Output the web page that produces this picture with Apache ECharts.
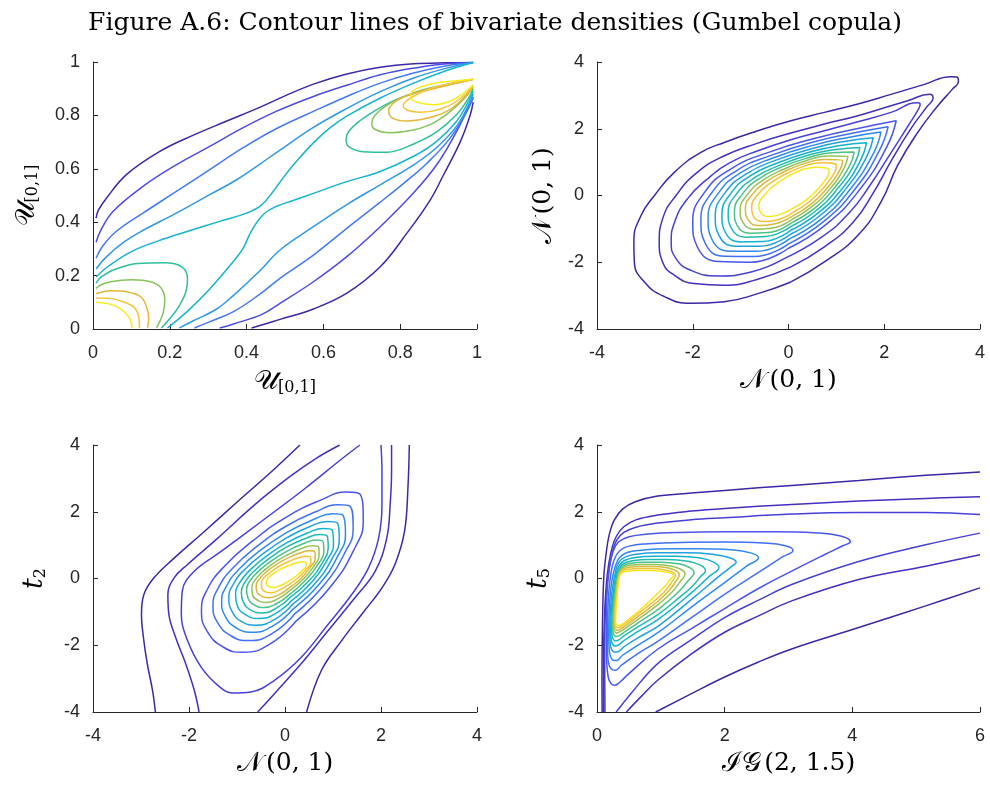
<!DOCTYPE html>
<html>
<head>
<meta charset="utf-8">
<script src="https://cdn.jsdelivr.net/npm/echarts@6/dist/echarts.min.js"></script>
<style>
html,body{margin:0;padding:0;background:#fff;}
#chart{width:990px;height:785px;}
</style>
</head>
<body>
<div id="chart"></div>
<script>
// ---------------- tick values ----------------
const tlTicks = [0, 0.2, 0.4, 0.6, 0.8, 1];
const nTicks = [-4, -2, 0, 2, 4];
const igTicks = [0, 2, 4, 6];

// ---------------- Top-left: U[0,1] x U[0,1] ----------------
const tl_u1 = [[0.008,0.415],[0.014,0.445],[0.035,0.49],[0.087,0.578],[0.174,0.665],[0.26,0.725],[0.347,0.778],[0.434,0.83],[0.5,0.873],[0.574,0.917],[0.661,0.955],[0.748,0.98],[0.835,0.993],[0.921,0.997],[0.99,0.998]];
const tl_u2 = [[0.008,0.325],[0.019,0.366],[0.052,0.44],[0.13,0.534],[0.217,0.615],[0.304,0.684],[0.39,0.753],[0.477,0.815],[0.574,0.871],[0.661,0.913],[0.748,0.952],[0.835,0.977],[0.921,0.993],[0.99,0.998]];
const tl_u3 = [[0.008,0.265],[0.025,0.31],[0.061,0.366],[0.13,0.434],[0.217,0.515],[0.304,0.597],[0.39,0.678],[0.477,0.75],[0.574,0.815],[0.661,0.871],[0.748,0.921],[0.835,0.959],[0.921,0.986],[0.99,0.998]];
const tl_u4 = [[0.008,0.225],[0.035,0.27],[0.08,0.325],[0.126,0.366],[0.217,0.434],[0.304,0.503],[0.373,0.558],[0.434,0.617],[0.487,0.67],[0.574,0.755],[0.661,0.826],[0.748,0.889],[0.835,0.94],[0.921,0.977],[0.99,0.998]];
const tl_u5 = [[0.008,0.195],[0.04,0.235],[0.1,0.29],[0.17,0.33],[0.247,0.366],[0.33,0.403],[0.4,0.434],[0.438,0.463],[0.469,0.515],[0.495,0.566],[0.53,0.628],[0.574,0.697],[0.617,0.753],[0.661,0.797],[0.748,0.865],[0.835,0.921],[0.921,0.968],[0.99,0.998]];
const tl_d1 = [[0.413,0.004],[0.487,0.036],[0.574,0.075],[0.661,0.134],[0.748,0.233],[0.817,0.358],[0.878,0.483],[0.912,0.575],[0.956,0.7],[0.982,0.8],[0.99,0.85]];
const tl_d2 = [[0.33,0.004],[0.366,0.019],[0.44,0.055],[0.487,0.096],[0.574,0.177],[0.661,0.271],[0.748,0.383],[0.835,0.51],[0.895,0.615],[0.947,0.74],[0.978,0.83],[0.99,0.865]];
const tl_d3 = [[0.264,0.004],[0.3,0.025],[0.366,0.065],[0.434,0.13],[0.487,0.19],[0.574,0.277],[0.661,0.377],[0.748,0.475],[0.817,0.555],[0.869,0.62],[0.93,0.715],[0.974,0.815],[0.99,0.87]];
const tl_d4 = [[0.225,0.004],[0.26,0.03],[0.32,0.073],[0.366,0.126],[0.434,0.217],[0.487,0.296],[0.574,0.383],[0.661,0.466],[0.748,0.54],[0.835,0.615],[0.895,0.68],[0.947,0.76],[0.978,0.84],[0.99,0.88]];
const tl_d5 = [[0.194,0.004],[0.248,0.069],[0.301,0.145],[0.354,0.233],[0.39,0.3],[0.412,0.366],[0.443,0.428],[0.477,0.459],[0.521,0.481],[0.574,0.508],[0.661,0.552],[0.748,0.59],[0.835,0.647],[0.895,0.703],[0.947,0.778],[0.978,0.853],[0.99,0.89]];
const tl_r6 = [[0.99,0.935],[0.921,0.915],[0.852,0.89],[0.791,0.86],[0.739,0.822],[0.695,0.78],[0.665,0.738],[0.659,0.708],[0.669,0.68],[0.704,0.664],[0.765,0.662],[0.835,0.693],[0.895,0.738],[0.947,0.803],[0.978,0.865],[0.99,0.9]];
const tl_r7 = [[0.99,0.935],[0.93,0.917],[0.869,0.9],[0.817,0.875],[0.765,0.838],[0.734,0.8],[0.726,0.77],[0.734,0.748],[0.773,0.735],[0.834,0.745],[0.887,0.772],[0.939,0.825],[0.974,0.875],[0.99,0.905]];
const tl_r8 = [[0.99,0.935],[0.94,0.918],[0.887,0.9],[0.835,0.882],[0.791,0.855],[0.77,0.82],[0.778,0.792],[0.817,0.779],[0.869,0.789],[0.921,0.815],[0.96,0.858],[0.99,0.908]];
const tl_r9 = [[0.99,0.935],[0.947,0.924],[0.895,0.908],[0.85,0.883],[0.82,0.858],[0.808,0.838],[0.818,0.82],[0.853,0.812],[0.904,0.823],[0.947,0.853],[0.99,0.91]];
const tl_r10 = [[0.99,0.935],[0.947,0.93],[0.895,0.922],[0.851,0.905],[0.83,0.888],[0.827,0.868],[0.843,0.85],[0.886,0.84],[0.93,0.853],[0.964,0.882],[0.99,0.915]];
const tl_l6 = [[0.008,0.172],[0.02,0.193],[0.055,0.222],[0.117,0.245],[0.187,0.248],[0.231,0.233],[0.246,0.189],[0.243,0.145],[0.225,0.088],[0.203,0.044],[0.178,0.004]];
const tl_l7 = [[0.008,0.152],[0.02,0.165],[0.046,0.177],[0.099,0.184],[0.152,0.176],[0.178,0.152],[0.187,0.107],[0.182,0.057],[0.165,0.004]];
const tl_l8 = [[0.008,0.132],[0.046,0.143],[0.09,0.139],[0.125,0.12],[0.14,0.08],[0.145,0.04],[0.142,0.004]];
const tl_l9 = [[0.008,0.116],[0.046,0.114],[0.082,0.1],[0.108,0.08],[0.119,0.045],[0.121,0.004]];
const tl_l10 = [[0.008,0.1],[0.038,0.095],[0.064,0.083],[0.082,0.063],[0.096,0.038],[0.102,0.004]];

// ---------------- Top-right: N(0,1) x N(0,1) ----------------
const tr_1 = [[3.4,3.56],[2.84,3.33],[2.14,3.03],[1.45,2.74],[0.75,2.49],[0.05,2.24],[-0.64,1.94],[-1.34,1.59],[-1.83,1.29],[-2.38,0.7],[-2.8,0.0],[-3.08,-0.6],[-3.23,-1.39],[-3.22,-1.99],[-3.01,-2.59],[-2.59,-3.03],[-2.04,-3.23],[-1.34,-3.18],[-0.64,-2.94],[0.05,-2.59],[0.75,-1.99],[1.45,-1.19],[1.93,-0.2],[2.28,0.9],[2.7,1.89],[3.12,2.69],[3.42,3.18],[3.55,3.42],[3.52,3.55],[3.4,3.56]];
const tr_2 = [[2.95,3.03],[2.49,2.84],[2.14,2.69],[1.45,2.39],[0.75,2.14],[0.05,1.87],[-0.64,1.57],[-1.34,1.19],[-1.9,0.7],[-2.35,0.0],[-2.63,-0.7],[-2.7,-1.39],[-2.63,-1.99],[-2.38,-2.39],[-1.97,-2.64],[-1.34,-2.69],[-0.64,-2.51],[0.05,-2.14],[0.75,-1.54],[1.35,-0.8],[1.78,0.1],[2.13,1.0],[2.55,1.99],[2.88,2.64],[3.02,2.92],[2.95,3.03]];
const tr_3 = [[2.7,2.78],[2.14,2.49],[1.45,2.21],[0.75,1.94],[0.05,1.67],[-0.64,1.34],[-1.2,1.0],[-1.69,0.5],[-2.11,-0.1],[-2.38,-0.8],[-2.45,-1.39],[-2.35,-1.89],[-2.04,-2.24],[-1.48,-2.41],[-0.78,-2.29],[-0.09,-1.89],[0.7,-1.24],[1.28,-0.5],[1.7,0.3],[2.1,1.19],[2.5,2.09],[2.72,2.6],[2.75,2.74],[2.7,2.78]];
const tr_4 = [[2.25,2.24],[1.45,2.01],[0.6,1.73],[-0.4,1.3],[-1.2,0.8],[-1.75,0.1],[-2.0,-0.8],[-1.9,-1.55],[-1.45,-1.98],[-0.8,-2.0],[0.0,-1.58],[0.8,-0.85],[1.5,0.2],[2.05,1.45],[2.25,2.24]];
const tr_5 = [[2.08,2.06],[1.35,1.87],[0.56,1.62],[-0.35,1.21],[-1.09,0.74],[-1.6,0.09],[-1.83,-0.74],[-1.74,-1.43],[-1.33,-1.82],[-0.73,-1.83],[0.01,-1.44],[0.75,-0.76],[1.4,0.21],[1.9,1.35],[2.08,2.06]];
const tr_6 = [[1.93,1.9],[1.25,1.74],[0.53,1.51],[-0.31,1.13],[-0.99,0.69],[-1.46,0.08],[-1.68,-0.69],[-1.6,-1.31],[-1.21,-1.67],[-0.66,-1.67],[0.02,-1.3],[0.71,-0.68],[1.3,0.21],[1.77,1.25],[1.93,1.9]];
const tr_7 = [[1.77,1.73],[1.16,1.62],[0.5,1.41],[-0.26,1.06],[-0.89,0.64],[-1.33,0.07],[-1.53,-0.63],[-1.45,-1.2],[-1.1,-1.52],[-0.6,-1.52],[0.03,-1.17],[0.66,-0.6],[1.21,0.22],[1.63,1.15],[1.77,1.73]];
const tr_8 = [[1.63,1.58],[1.08,1.5],[0.47,1.31],[-0.22,0.98],[-0.8,0.59],[-1.2,0.07],[-1.39,-0.58],[-1.32,-1.1],[-1.0,-1.39],[-0.54,-1.38],[0.04,-1.05],[0.62,-0.52],[1.13,0.22],[1.51,1.07],[1.63,1.58]];
const tr_9 = [[1.49,1.44],[0.99,1.38],[0.44,1.22],[-0.18,0.91],[-0.7,0.54],[-1.08,0.06],[-1.26,-0.53],[-1.19,-0.99],[-0.89,-1.25],[-0.48,-1.23],[0.05,-0.93],[0.58,-0.45],[1.04,0.23],[1.39,0.98],[1.49,1.44]];
const tr_10 = [[1.37,1.3],[0.91,1.28],[0.41,1.13],[-0.15,0.85],[-0.62,0.5],[-0.96,0.05],[-1.13,-0.49],[-1.07,-0.9],[-0.8,-1.13],[-0.42,-1.11],[0.06,-0.82],[0.55,-0.38],[0.96,0.23],[1.28,0.9],[1.37,1.3]];
const tr_11 = [[1.24,1.17],[0.84,1.18],[0.38,1.05],[-0.11,0.78],[-0.54,0.45],[-0.85,0.04],[-1.01,-0.44],[-0.95,-0.81],[-0.71,-1.01],[-0.37,-0.98],[0.07,-0.72],[0.51,-0.31],[0.89,0.24],[1.16,0.82],[1.24,1.17]];
const tr_12 = [[1.13,1.05],[0.77,1.08],[0.36,0.97],[-0.08,0.72],[-0.46,0.42],[-0.75,0.04],[-0.9,-0.4],[-0.84,-0.73],[-0.63,-0.9],[-0.32,-0.86],[0.08,-0.62],[0.48,-0.25],[0.82,0.24],[1.07,0.75],[1.13,1.05]];
const tr_13 = [[1.0,0.91],[0.69,0.98],[0.33,0.88],[-0.04,0.66],[-0.38,0.37],[-0.64,0.03],[-0.77,-0.36],[-0.73,-0.63],[-0.53,-0.78],[-0.27,-0.74],[0.09,-0.51],[0.44,-0.18],[0.74,0.25],[0.96,0.68],[1.0,0.91]];
const tr_14 = [[0.85,0.75],[0.6,0.85],[0.3,0.78],[0.0,0.58],[-0.28,0.32],[-0.5,0.02],[-0.62,-0.3],[-0.58,-0.52],[-0.42,-0.63],[-0.2,-0.58],[0.1,-0.38],[0.4,-0.1],[0.65,0.25],[0.82,0.58],[0.85,0.75]];

// ---------------- Bottom-left: N(0,1) x t2 ----------------
const bl_1a = [[-2.7,-4.0],[-2.76,-3.35],[-2.87,-2.55],[-2.95,-1.76],[-2.99,-1.07],[-2.94,-0.48],[-2.73,0.02],[-2.31,0.61],[-1.68,1.41],[-0.99,2.3],[-0.29,3.19],[0.31,4.0]];
const bl_1b = [[2.59,4.0],[2.56,2.69],[2.49,1.41],[2.29,0.42],[2.02,-0.28],[1.6,-1.07],[1.18,-1.86],[0.76,-2.75],[0.45,-4.0]];
const bl_2a = [[-1.79,-4.0],[-1.89,-3.35],[-2.07,-2.55],[-2.28,-1.76],[-2.42,-1.07],[-2.44,-0.48],[-2.31,0.02],[-2.03,0.42],[-1.4,1.21],[-0.64,2.2],[0.1,3.05],[0.65,3.6],[1.14,4.0]];
const bl_2b = [[2.22,4.0],[2.22,3.19],[2.19,2.2],[2.12,1.21],[1.88,0.22],[1.46,-0.57],[0.9,-1.56],[0.34,-2.55],[-0.22,-3.45],[-0.57,-4.0]];
const bl_3 = [[1.56,4.0],[1.18,3.58],[0.41,2.69],[-0.5,1.7],[-1.33,0.81],[-1.89,0.22],[-2.14,-0.38],[-2.16,-1.07],[-2.03,-1.86],[-1.75,-2.65],[-1.4,-3.2],[-1.09,-3.43],[-0.71,-3.4],[-0.22,-3.05],[0.34,-2.36],[0.9,-1.37],[1.39,-0.48],[1.74,0.32],[1.95,1.21],[2.02,2.2],[2.02,3.19],[2.0,4.0]];
const bl_4 = [[1.56,2.53],[1.63,1.74],[1.45,0.9],[0.94,-0.26],[0.24,-1.26],[-0.31,-1.96],[-0.87,-2.21],[-1.28,-2.06],[-1.63,-1.56],[-1.74,-0.96],[-1.63,-0.36],[-1.28,0.34],[-0.66,1.14],[0.03,1.84],[0.73,2.34],[1.28,2.59],[1.56,2.53]];
const bl_5 = [[1.36,2.16],[1.42,1.5],[1.25,0.78],[0.81,-0.2],[0.21,-1.05],[-0.27,-1.65],[-0.76,-1.86],[-1.11,-1.73],[-1.41,-1.31],[-1.5,-0.8],[-1.39,-0.28],[-1.09,0.31],[-0.56,0.99],[0.04,1.58],[0.64,2.0],[1.11,2.21],[1.36,2.16]];
const bl_6 = [[1.21,1.89],[1.26,1.32],[1.11,0.7],[0.72,-0.16],[0.18,-0.9],[-0.25,-1.42],[-0.68,-1.61],[-0.99,-1.5],[-1.25,-1.12],[-1.32,-0.68],[-1.22,-0.23],[-0.95,0.29],[-0.48,0.88],[0.05,1.39],[0.58,1.76],[1.0,1.94],[1.21,1.89]];
const bl_7 = [[1.09,1.67],[1.13,1.17],[0.99,0.62],[0.64,-0.13],[0.16,-0.77],[-0.22,-1.23],[-0.61,-1.4],[-0.89,-1.3],[-1.11,-0.97],[-1.17,-0.58],[-1.08,-0.18],[-0.84,0.27],[-0.42,0.78],[0.05,1.23],[0.52,1.56],[0.89,1.71],[1.09,1.67]];
const bl_8 = [[0.98,1.46],[1.01,1.03],[0.88,0.56],[0.57,-0.09],[0.14,-0.66],[-0.2,-1.05],[-0.55,-1.2],[-0.79,-1.11],[-0.99,-0.83],[-1.03,-0.49],[-0.95,-0.14],[-0.73,0.25],[-0.36,0.7],[0.06,1.09],[0.48,1.37],[0.8,1.5],[0.98,1.46]];
const bl_9 = [[0.88,1.27],[0.9,0.91],[0.79,0.5],[0.5,-0.07],[0.12,-0.55],[-0.18,-0.89],[-0.49,-1.03],[-0.71,-0.95],[-0.87,-0.7],[-0.91,-0.41],[-0.83,-0.1],[-0.63,0.24],[-0.31,0.62],[0.06,0.96],[0.43,1.2],[0.72,1.32],[0.88,1.27]];
const bl_10 = [[0.79,1.11],[0.81,0.8],[0.7,0.45],[0.44,-0.04],[0.11,-0.46],[-0.17,-0.75],[-0.44,-0.87],[-0.63,-0.8],[-0.77,-0.59],[-0.8,-0.33],[-0.73,-0.07],[-0.55,0.22],[-0.26,0.55],[0.07,0.84],[0.39,1.05],[0.65,1.15],[0.79,1.11]];
const bl_11 = [[0.7,0.94],[0.71,0.69],[0.61,0.39],[0.39,-0.01],[0.09,-0.37],[-0.15,-0.61],[-0.39,-0.72],[-0.56,-0.66],[-0.68,-0.47],[-0.69,-0.26],[-0.62,-0.04],[-0.46,0.21],[-0.21,0.49],[0.07,0.72],[0.35,0.9],[0.57,0.98],[0.7,0.94]];
const bl_12 = [[0.62,0.8],[0.63,0.6],[0.53,0.35],[0.34,0.01],[0.08,-0.29],[-0.13,-0.49],[-0.35,-0.58],[-0.49,-0.53],[-0.59,-0.38],[-0.6,-0.2],[-0.53,-0.01],[-0.39,0.2],[-0.17,0.43],[0.07,0.62],[0.32,0.77],[0.51,0.83],[0.62,0.8]];
const bl_13 = [[0.53,0.64],[0.54,0.49],[0.45,0.29],[0.28,0.03],[0.07,-0.19],[-0.12,-0.35],[-0.3,-0.43],[-0.42,-0.39],[-0.49,-0.26],[-0.49,-0.12],[-0.43,0.03],[-0.31,0.18],[-0.13,0.36],[0.08,0.51],[0.28,0.62],[0.43,0.67],[0.53,0.64]];
const bl_14 = [[0.44,0.47],[0.44,0.38],[0.36,0.24],[0.22,0.06],[0.05,-0.1],[-0.1,-0.21],[-0.25,-0.27],[-0.34,-0.24],[-0.39,-0.15],[-0.38,-0.05],[-0.32,0.06],[-0.22,0.17],[-0.08,0.29],[0.08,0.39],[0.24,0.47],[0.36,0.5],[0.44,0.47]];

// ---------------- Bottom-right: IG(2,1.5) x t5 ----------------
const br_t1 = [[6.0,3.19],[5.15,3.09],[4.1,2.94],[3.05,2.79],[2.0,2.64],[1.48,2.56],[0.95,2.47],[0.6,2.3],[0.4,2.08],[0.27,1.75],[0.19,1.3],[0.14,0.7],[0.105,0.0],[0.085,-1.5],[0.078,-3.0],[0.08,-4.0]];
const br_t2 = [[6.0,2.45],[5.15,2.4],[4.1,2.32],[3.05,2.22],[2.0,2.1],[1.48,2.02],[0.95,1.9],[0.6,1.75],[0.42,1.55],[0.3,1.25],[0.22,0.8],[0.16,0.1],[0.12,-1.0],[0.103,-2.5],[0.105,-4.0]];
const br_t3 = [[6.0,1.92],[5.15,1.98],[4.1,1.98],[3.05,1.93],[2.0,1.82],[1.48,1.76],[0.95,1.66],[0.6,1.53],[0.42,1.38],[0.31,1.15],[0.235,0.75],[0.175,0.1],[0.135,-0.8],[0.12,-2.0],[0.125,-4.0]];
const br_b1 = [[0.92,-4.0],[1.48,-3.45],[2.0,-2.95],[2.53,-2.5],[3.05,-2.11],[4.1,-1.47],[5.15,-0.82],[6.0,-0.28]];
const br_b2 = [[0.46,-4.0],[0.69,-3.54],[0.95,-3.05],[1.48,-2.26],[2.0,-1.61],[2.53,-1.12],[3.05,-0.67],[4.1,-0.03],[5.15,0.37],[6.0,0.71]];
const br_b3 = [[0.3,-4.0],[0.53,-3.45],[0.95,-2.55],[1.48,-1.83],[2.0,-1.17],[2.53,-0.65],[3.05,-0.18],[4.1,0.51],[5.15,1.01],[6.0,1.36]];
const br_4 = [[3.97,1.1],[3.8,1.28],[3.4,1.37],[2.8,1.4],[2.0,1.4],[1.3,1.38],[0.8,1.33],[0.5,1.25],[0.34,1.1],[0.25,0.8],[0.19,0.25],[0.155,-0.5],[0.145,-1.5],[0.15,-2.4],[0.175,-2.95],[0.22,-3.15],[0.28,-3.2],[0.36,-3.1],[0.5,-2.85],[0.95,-2.12],[1.48,-1.5],[2.0,-0.9],[2.53,-0.3],[3.05,0.22],[3.57,0.72],[3.85,0.98],[3.97,1.1]];
const br_5 = [[3.07,0.84],[2.95,0.98],[2.6,1.06],[2.0,1.09],[1.3,1.08],[0.8,1.04],[0.5,0.97],[0.36,0.84],[0.27,0.57],[0.21,0.05],[0.175,-0.7],[0.163,-1.6],[0.168,-2.3],[0.19,-2.6],[0.235,-2.73],[0.29,-2.75],[0.38,-2.6],[0.6,-2.3],[0.97,-1.86],[1.49,-1.16],[2.01,-0.46],[2.53,0.18],[2.9,0.64],[3.07,0.84]];
const br_6 = [[2.53,0.62],[2.42,0.76],[2.1,0.86],[1.6,0.89],[1.1,0.89],[0.7,0.85],[0.47,0.78],[0.35,0.62],[0.285,0.35],[0.23,-0.1],[0.195,-0.8],[0.183,-1.6],[0.19,-2.1],[0.215,-2.35],[0.255,-2.45],[0.305,-2.46],[0.4,-2.3],[0.6,-2.05],[0.97,-1.6],[1.49,-0.84],[2.01,-0.11],[2.35,0.38],[2.53,0.62]];
const br_7 = [[2.18,0.49],[2.08,0.62],[1.8,0.73],[1.4,0.77],[0.95,0.77],[0.62,0.73],[0.44,0.64],[0.34,0.48],[0.29,0.2],[0.245,-0.25],[0.21,-0.9],[0.2,-1.6],[0.207,-1.95],[0.23,-2.13],[0.268,-2.2],[0.315,-2.2],[0.42,-2.05],[0.62,-1.8],[0.97,-1.41],[1.49,-0.61],[1.9,0.05],[2.1,0.35],[2.18,0.49]];
const br_8 = [[1.91,0.34],[1.82,0.5],[1.6,0.62],[1.25,0.67],[0.9,0.67],[0.6,0.63],[0.43,0.54],[0.345,0.38],[0.295,0.1],[0.26,-0.35],[0.225,-0.95],[0.215,-1.55],[0.222,-1.83],[0.245,-1.97],[0.283,-2.02],[0.325,-2.0],[0.43,-1.85],[0.63,-1.6],[0.97,-1.21],[1.49,-0.41],[1.75,0.05],[1.91,0.34]];
const br_9 = [[1.7,0.24],[1.62,0.4],[1.42,0.52],[1.1,0.57],[0.8,0.57],[0.56,0.53],[0.42,0.45],[0.35,0.3],[0.305,0.05],[0.272,-0.4],[0.24,-0.95],[0.23,-1.5],[0.236,-1.72],[0.258,-1.83],[0.292,-1.87],[0.332,-1.85],[0.44,-1.7],[0.64,-1.45],[0.97,-1.06],[1.3,-0.55],[1.49,-0.24],[1.62,0.05],[1.7,0.24]];
const br_10 = [[1.52,0.19],[1.45,0.33],[1.28,0.44],[1.0,0.49],[0.74,0.49],[0.53,0.46],[0.41,0.38],[0.355,0.24],[0.315,0.0],[0.283,-0.4],[0.255,-0.95],[0.245,-1.45],[0.25,-1.62],[0.272,-1.71],[0.303,-1.74],[0.343,-1.72],[0.45,-1.58],[0.65,-1.32],[0.97,-0.91],[1.25,-0.45],[1.42,-0.08],[1.52,0.19]];
const br_11 = [[1.38,0.14],[1.32,0.27],[1.17,0.37],[0.92,0.42],[0.7,0.42],[0.51,0.4],[0.4,0.32],[0.355,0.19],[0.322,-0.02],[0.293,-0.4],[0.266,-0.95],[0.256,-1.4],[0.262,-1.54],[0.282,-1.61],[0.312,-1.63],[0.352,-1.6],[0.46,-1.47],[0.66,-1.2],[0.97,-0.76],[1.18,-0.4],[1.3,-0.1],[1.38,0.14]];
const br_12 = [[1.29,0.12],[1.24,0.23],[1.1,0.32],[0.88,0.36],[0.67,0.36],[0.5,0.34],[0.395,0.27],[0.355,0.15],[0.327,-0.05],[0.302,-0.4],[0.277,-0.95],[0.267,-1.35],[0.273,-1.47],[0.292,-1.53],[0.322,-1.55],[0.362,-1.52],[0.47,-1.38],[0.67,-1.1],[0.97,-0.66],[1.13,-0.36],[1.23,-0.1],[1.29,0.12]];
const br_13 = [[1.23,0.1],[1.18,0.19],[1.05,0.26],[0.85,0.3],[0.65,0.3],[0.49,0.28],[0.39,0.22],[0.355,0.11],[0.332,-0.08],[0.31,-0.4],[0.287,-0.95],[0.278,-1.3],[0.285,-1.41],[0.302,-1.46],[0.332,-1.47],[0.372,-1.44],[0.48,-1.3],[0.68,-1.0],[0.97,-0.56],[1.1,-0.3],[1.18,-0.08],[1.23,0.1]];
const br_14 = [[1.2,0.09],[1.15,0.16],[1.02,0.21],[0.82,0.24],[0.62,0.24],[0.47,0.22],[0.38,0.16],[0.35,0.05],[0.335,-0.15],[0.318,-0.45],[0.298,-0.95],[0.29,-1.25],[0.296,-1.35],[0.312,-1.4],[0.342,-1.41],[0.382,-1.38],[0.5,-1.22],[0.7,-0.9],[0.97,-0.41],[1.08,-0.2],[1.15,-0.02],[1.2,0.09]];

// ---------------- colours (parula-like levels) ----------------
const PAL = ['#3e26a8','#4230c0','#4640d8','#4a55ee','#4170f7','#2f8aef','#20a1e0','#12b2cb','#1fbcae','#4bc286','#95c25a','#d6ba3c','#f5c23a','#f8e61c'];
const TLPAL = ['#3e26a8','#4b4be6','#4479f6','#2f98e8','#15b4d0','#2fbf9c','#86c35c','#e2b73a','#f6c63a','#f8ec1c'];

// closed loops: start the path mid-side so the closing joint falls on a flat stretch
function startAt(loop, k){ const open = loop.slice(0, loop.length - 1); return open.slice(k).concat(open.slice(0, k + 1)); }

// ---------------- assembly ----------------
const trLoops = [startAt(tr_1,19), startAt(tr_2,17), startAt(tr_3,15)].concat(
  [tr_4,tr_5,tr_6,tr_7,tr_8,tr_9,tr_10,tr_11,tr_12,tr_13,tr_14].map(l => startAt(l,10)));
const blLoops = [bl_4,bl_5,bl_6,bl_7,bl_8,bl_9,bl_10,bl_11,bl_12,bl_13,bl_14].map(l => startAt(l,4));
const brLoops = [startAt(br_4,12)].concat([br_5,br_6,br_7,br_8,br_9,br_10,br_11,br_12,br_13,br_14].map(l => startAt(l,11)));

const panels = [
  { grid: 0, smooth: 0.4, lines: [
    [tl_u1,TLPAL[0]],[tl_d1,TLPAL[0]],[tl_u2,TLPAL[1]],[tl_d2,TLPAL[1]],[tl_u3,TLPAL[2]],[tl_d3,TLPAL[2]],
    [tl_u4,TLPAL[3]],[tl_d4,TLPAL[3]],[tl_u5,TLPAL[4]],[tl_d5,TLPAL[4]],
    [tl_r6,TLPAL[5]],[tl_l6,TLPAL[5]],[tl_r7,TLPAL[6]],[tl_l7,TLPAL[6]],[tl_r8,TLPAL[7]],[tl_l8,TLPAL[7]],
    [tl_r9,TLPAL[8]],[tl_l9,TLPAL[8]],[tl_r10,TLPAL[9]],[tl_l10,TLPAL[9]] ]},
  { grid: 1, smooth: 0.5, lines: trLoops.map((d,i)=>[d,PAL[i]]) },
  { grid: 2, smooth: 0.4, lines: [[bl_1a,PAL[0]],[bl_1b,PAL[0]],[bl_2a,PAL[1]],[bl_2b,PAL[1]],[bl_3,PAL[2]]] },
  { grid: 2, smooth: 0.5, lines: blLoops.map((d,i)=>[d,PAL[i+3]]) },
  { grid: 3, smooth: 0.4, lines: [[br_t1,PAL[0]],[br_b1,PAL[0]],[br_t2,PAL[1]],[br_b2,PAL[1]],[br_t3,PAL[2]],[br_b3,PAL[2]]] },
  { grid: 3, smooth: 0.45, lines: brLoops.map((d,i)=>[d,PAL[i+3]]) }
];

const series = [];
panels.forEach(p => p.lines.forEach(([d,c]) => series.push({
  type:'line', xAxisIndex:p.grid, yAxisIndex:p.grid, data:d, smooth:p.smooth,
  symbol:'none', silent:true, clip:true, lineStyle:{color:c, width:1.5}
})));

const AX = '#262626';
const serif = '"DejaVu Serif", "Liberation Serif", serif';
const rich = {
  c: {fontFamily: serif, fontSize: 27, color:'#000'},
  n: {fontFamily: serif, fontSize: 25, color:'#000'},
  i: {fontFamily: serif, fontStyle:'italic', fontSize: 27, color:'#000'},
  s: {fontFamily: serif, fontSize: 16, color:'#000', verticalAlign:'bottom', padding:[13,0,0,0]}
};
function axisBase(grid, ticks, name, gap, isY){
  return {
    gridIndex: grid, type:'value', min: ticks[0], max: ticks[ticks.length-1],
    interval: ticks[1]-ticks[0],
    axisLine:{show:true, onZero:false, lineStyle:{color:AX, width:1}},
    axisTick:{show:true, inside:true, length:5, lineStyle:{color:AX, width:1}},
    splitLine:{show:false},
    axisLabel:{color:'#262626', fontSize:18, fontFamily:'"Liberation Sans", Arial, sans-serif', margin: isY?13:15},
    name: name, nameLocation:'middle', nameGap: gap,
    nameTextStyle:{rich: rich}
  };
}
const grids = [
  {left:93, top:62, width:384, height:267},
  {left:597, top:62, width:383, height:267},
  {left:93, top:445, width:384, height:267},
  {left:597, top:445, width:383, height:267}
];
const nameU = '{c|𝒰}{s|[0,1]}';
const nameN = '{c|𝒩} {n|(0, 1)}';
const option = {
  animation:false,
  backgroundColor:'#fff',
  title:{text:'Figure A.6: Contour lines of bivariate densities (Gumbel copula)', left:'center', top:6,
    textStyle:{fontFamily: serif, fontSize:25, fontWeight:'normal', color:'#000'}},
  grid: grids,
  xAxis: [
    axisBase(0, tlTicks, nameU, 38, false),
    axisBase(1, nTicks, nameN, 38, false),
    axisBase(2, nTicks, nameN, 38, false),
    axisBase(3, igTicks, '{c|ℐ𝒢} {n|(2, 1.5)}', 38, false)
  ],
  yAxis: [
    axisBase(0, tlTicks, nameU, 52, true),
    axisBase(1, nTicks, nameN, 40, true),
    axisBase(2, nTicks, '{i|t}{s|2}', 44, true),
    axisBase(3, nTicks, '{i|t}{s|5}', 44, true)
  ],
  series: series
};
const chart = echarts.init(document.getElementById('chart'), null, {renderer:'canvas'});
chart.setOption(option);
</script>
</body>
</html>
